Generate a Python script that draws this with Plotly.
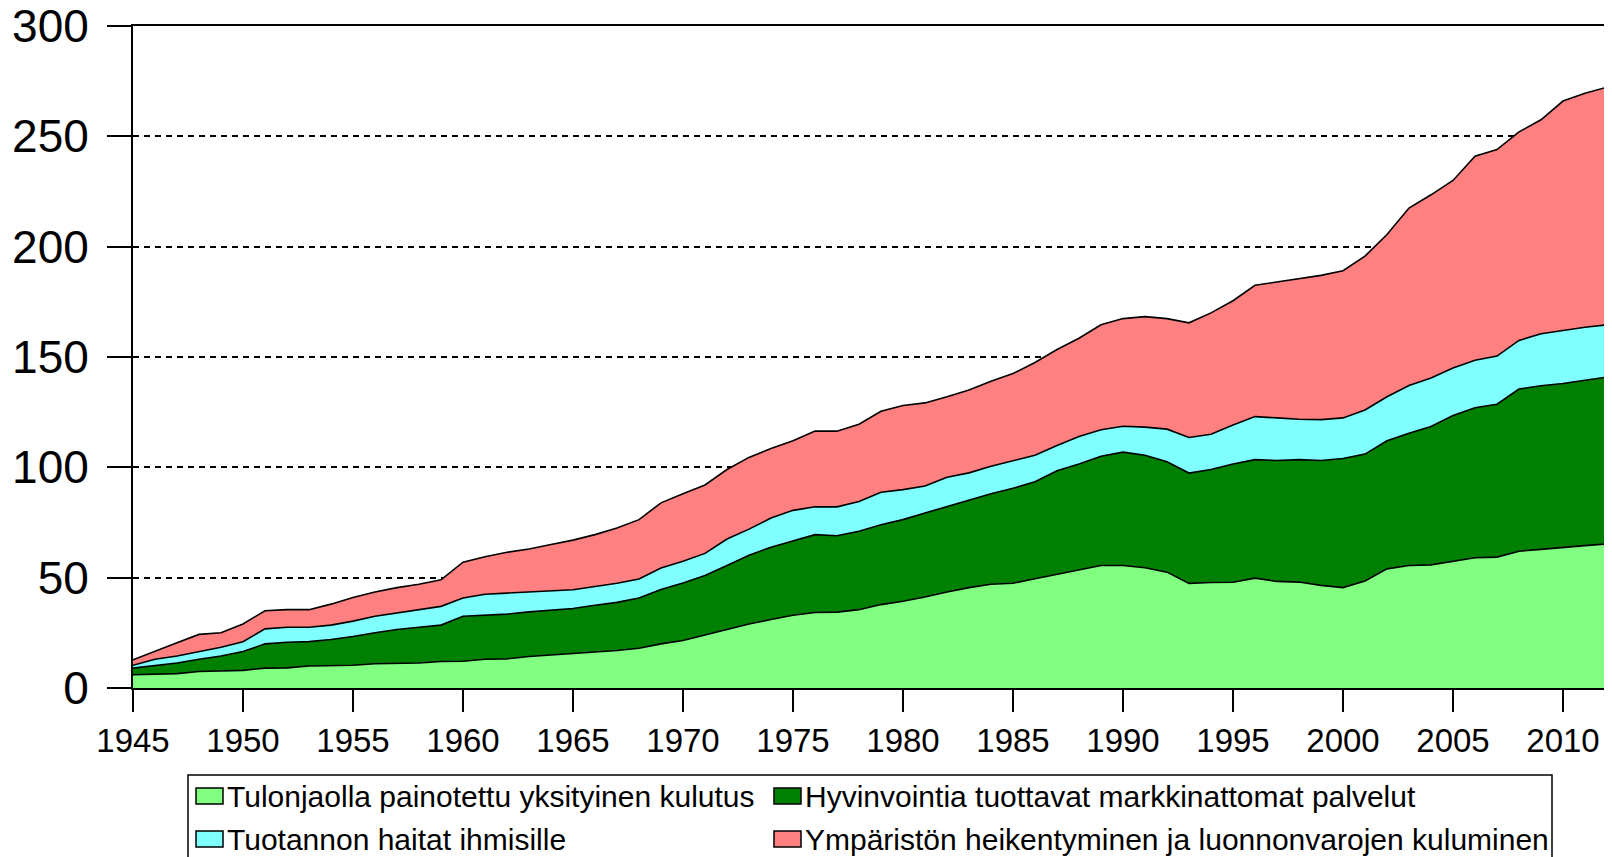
import plotly.graph_objects as go

years = list(range(1945, 2013))

# Tulonjaolla painotettu yksityinen kulutus
private_consumption = [
    6.0, 6.2, 6.5, 7.5, 7.6, 8.0, 9.0, 9.1, 10.0, 10.2,
    10.3, 11.0, 11.2, 11.3, 12.0, 12.1, 13.0, 13.2, 14.3, 15.0,
    15.5, 16.2, 17.0, 18.0, 20.0, 21.5, 24.0, 26.5, 29.0, 31.0,
    33.0, 34.2, 34.4, 35.5, 37.8, 39.3, 41.2, 43.5, 45.5, 47.0,
    47.5, 49.5, 51.5, 53.5, 55.5, 55.5, 54.5, 52.5, 47.4, 47.8,
    47.9, 49.8, 48.3, 48.0, 46.5, 45.5, 48.5, 54.0, 55.5, 55.8,
    57.5, 59.0, 59.3, 62.0, 62.8, 63.5, 64.5, 65.3,
]
# Hyvinvointia tuottavat markkinattomat palvelut
nonmarket_services = [
    3.0, 4.1, 4.8, 5.5, 6.9, 8.5, 11.0, 11.6, 11.0, 11.8,
    13.0, 14.0, 15.3, 16.2, 16.5, 20.4, 20.0, 20.3, 20.2, 20.3,
    20.5, 21.3, 21.8, 22.8, 24.6, 26.1, 27.0, 29.0, 31.2, 32.8,
    33.8, 35.3, 34.6, 35.5, 36.2, 37.0, 38.1, 38.8, 39.5, 41.0,
    43.0, 44.0, 46.9, 48.0, 49.5, 51.4, 51.0, 50.0, 50.0, 51.2,
    53.6, 53.7, 54.8, 55.5, 56.6, 58.5, 57.5, 58.0, 59.9, 62.7,
    66.0, 68.0, 69.3, 73.5, 74.2, 74.5, 75.0, 75.6,
]
# Tuotannon haitat ihmisille
production_harms = [
    1.3, 2.7, 3.2, 3.5, 4.0, 4.5, 6.8, 6.8, 6.5, 6.5,
    7.0, 7.5, 7.5, 8.0, 8.5, 8.3, 9.5, 9.5, 9.0, 8.7,
    8.5, 8.5, 8.7, 8.6, 9.8, 9.8, 10.0, 12.0, 11.8, 13.2,
    13.7, 12.6, 13.1, 13.5, 14.7, 13.6, 12.2, 13.2, 12.5, 12.5,
    12.5, 12.0, 11.5, 12.5, 12.0, 11.7, 12.7, 14.8, 16.1, 16.0,
    17.7, 19.5, 19.3, 18.3, 18.5, 18.4, 20.0, 20.0, 21.7, 22.0,
    21.5, 21.5, 21.8, 22.0, 23.5, 24.0, 24.0, 23.7,
]
# Ympäristön heikentyminen ja luonnonvarojen kuluminen
environment = [
    2.5, 3.5, 6.0, 7.8, 6.5, 8.0, 8.2, 8.0, 8.0, 9.5,
    10.7, 11.0, 11.5, 11.5, 12.0, 16.2, 17.0, 18.5, 19.5, 21.0,
    22.5, 23.5, 25.0, 26.9, 29.5, 30.6, 31.0, 31.5, 32.5, 31.5,
    31.5, 34.3, 34.3, 35.0, 36.7, 38.1, 37.7, 36.5, 37.5, 38.5,
    39.5, 42.0, 43.5, 44.5, 47.6, 48.8, 50.1, 50.1, 52.0, 55.0,
    56.3, 59.5, 61.6, 63.7, 65.4, 66.7, 69.7, 73.5, 80.4, 83.0,
    85.0, 92.5, 93.6, 94.5, 97.0, 104.0, 106.0, 107.7,
]

series_names = [
    "Tulonjaolla painotettu yksityinen kulutus",
    "Hyvinvointia tuottavat markkinattomat palvelut",
    "Tuotannon haitat ihmisille",
    "Ympäristön heikentyminen ja luonnonvarojen kuluminen",
]
series_values = [private_consumption, nonmarket_services, production_harms, environment]
series_colors = ["#80FF80", "#008000", "#80FFFF", "#FF8080"]

y_ticks = [0, 50, 100, 150, 200, 250, 300]
x_ticks = list(range(1945, 2011, 5))

FONT = "Liberation Sans, Arial, sans-serif"
# the page body has an 8px default margin; size the figure to fill the rest
OFF = 8
W, H = 1612 - OFF, 857 - OFF
ML, MT = 133 - OFF, 26 - OFF
PLOT_R, PLOT_B = 1607 - OFF, 688 - OFF
MR, MB = W - PLOT_R, H - PLOT_B
PW, PH = PLOT_R - ML, PLOT_B - MT


def px_x(px):
    """window x pixel -> paper fraction"""
    return (px - OFF - ML) / PW


def px_y(py):
    """window y pixel -> paper fraction"""
    return (PLOT_B - (py - OFF)) / PH


fig = go.Figure()
for name, vals, col in zip(series_names, series_values, series_colors):
    fig.add_trace(go.Scatter(
        x=years, y=vals, name=name, mode="lines",
        stackgroup="one", fillcolor=col,
        line=dict(color="black", width=1.6),
        showlegend=False,
    ))

# legend drawn as shapes + text
shapes = [dict(type="rect", xref="paper", yref="paper",
               x0=px_x(188), x1=px_x(1552), y0=px_y(890), y1=px_y(775),
               line=dict(color="black", width=1.5), fillcolor="white", layer="above")]
annotations = []
leg_pos = [(196, 796), (774, 796), (196, 839), (774, 839)]
for (lx, ly), name, col in zip(leg_pos, series_names, series_colors):
    shapes.append(dict(type="rect", xref="paper", yref="paper",
                       x0=px_x(lx), x1=px_x(lx + 27), y0=px_y(ly + 8), y1=px_y(ly - 8),
                       line=dict(color="black", width=1.5), fillcolor=col, layer="above"))
    annotations.append(dict(xref="paper", yref="paper", x=px_x(lx + 29), y=px_y(ly),
                            xanchor="left", yanchor="middle", showarrow=False,
                            text=name, font=dict(family=FONT, size=30, color="black")))

fig.update_layout(
    width=W, height=H,
    margin=dict(l=ML, r=MR, t=MT, b=MB, autoexpand=False),
    paper_bgcolor="white", plot_bgcolor="white",
    showlegend=False,
    shapes=shapes, annotations=annotations,
    xaxis=dict(
        range=[1945, 2012], tickvals=x_ticks, ticktext=[str(v) for v in x_ticks],
        showgrid=False, zeroline=False, automargin=False,
        showline=True, linecolor="black", linewidth=2, mirror=True,
        ticks="outside", ticklen=22, tickwidth=2, tickcolor="black",
        tickfont=dict(family=FONT, size=33, color="black"),
        ticklabelstandoff=0, ticklabeloverflow="allow",
    ),
    yaxis=dict(
        range=[0, 300], tickvals=y_ticks, ticktext=[str(v) for v in y_ticks],
        showgrid=True, gridcolor="black", gridwidth=2, griddash="6px,5px",
        zeroline=False, automargin=False,
        showline=True, linecolor="black", linewidth=2, mirror=True,
        ticks="outside", ticklen=24, tickwidth=2, tickcolor="black",
        tickfont=dict(family=FONT, size=46, color="black"),
        ticklabelstandoff=9, ticklabeloverflow="allow",
    ),
)

fig.write_html("out.html")
